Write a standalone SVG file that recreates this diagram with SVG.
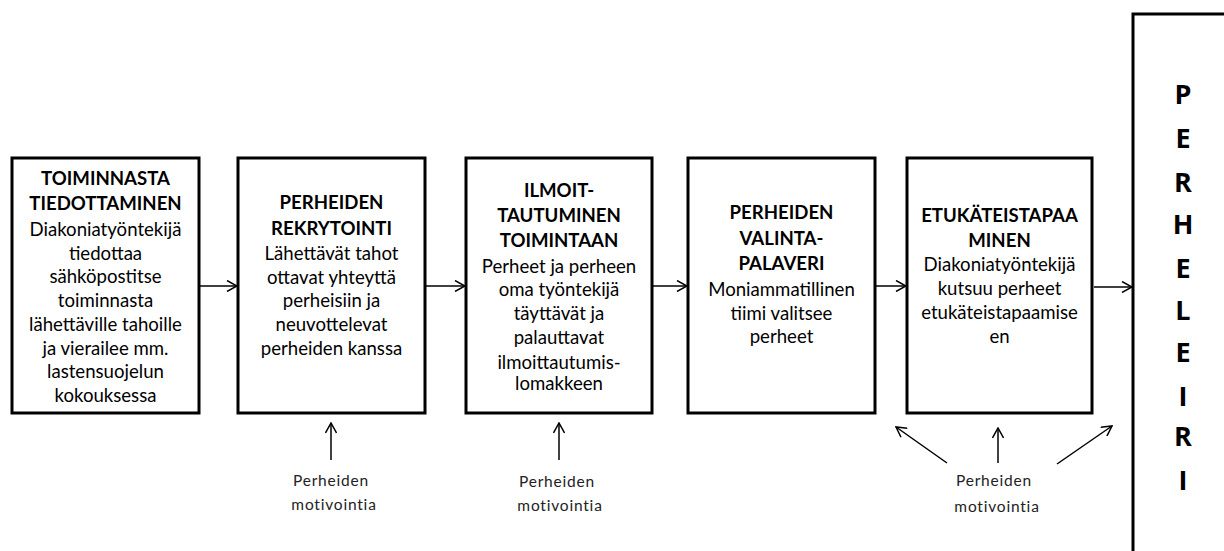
<svg xmlns="http://www.w3.org/2000/svg" width="1224" height="551" viewBox="0 0 1224 551">
<defs>
<style>
.box{fill:#fff;stroke:#000;stroke-width:3}
.t{font-family:Lato,"Liberation Sans",sans-serif;font-size:18.6px;text-anchor:middle;fill:#000}
.b{font-weight:bold}
.big{font-family:"Open Sans",Lato,sans-serif;font-weight:bold;font-size:27px;text-anchor:middle;fill:#000}
.lab{font-family:Lato,"DejaVu Sans",sans-serif;font-size:15.5px;text-anchor:middle;fill:#222;letter-spacing:0.8px}
.c{fill:none;stroke:#000;stroke-width:1.5}
</style>
<marker id="ah" viewBox="0 0 12 12" refX="11" refY="6" markerWidth="12" markerHeight="12" markerUnits="userSpaceOnUse" orient="auto">
<path d="M1,0.5 L11,6 L1,11.5" fill="none" stroke="#000" stroke-width="1.5"/>
</marker>
</defs>

<g id="connectors">
<line class="c" x1="200" y1="286" x2="237" y2="286" marker-end="url(#ah)"/>
<line class="c" x1="426" y1="286" x2="465" y2="286" marker-end="url(#ah)"/>
<line class="c" x1="653" y1="286" x2="687" y2="286" marker-end="url(#ah)"/>
<line class="c" x1="876" y1="286" x2="906" y2="286" marker-end="url(#ah)"/>
<line class="c" x1="1094" y1="287" x2="1132" y2="287" marker-end="url(#ah)"/>
<line class="c" x1="331" y1="460" x2="331" y2="423" marker-end="url(#ah)"/>
<line class="c" x1="559" y1="460" x2="559" y2="423" marker-end="url(#ah)"/>
<line class="c" x1="998" y1="463" x2="998" y2="428" marker-end="url(#ah)"/>
<line class="c" x1="947" y1="463" x2="896" y2="427" marker-end="url(#ah)"/>
<line class="c" x1="1057" y1="464" x2="1112" y2="426" marker-end="url(#ah)"/>
</g>

<g id="node1">
<rect class="box" x="12" y="158" width="187" height="255"/>
<text class="t b" x="105.5" y="185">TOIMINNASTA</text>
<text class="t b" x="105.5" y="210">TIEDOTTAMINEN</text>
<text class="t" x="105.5" y="236">Diakoniatyöntekijä</text>
<text class="t" x="105.5" y="260">tiedottaa</text>
<text class="t" x="105.5" y="283">sähköpostitse</text>
<text class="t" x="105.5" y="307">toiminnasta</text>
<text class="t" x="105.5" y="331">lähettäville tahoille</text>
<text class="t" x="105.5" y="355">ja vierailee mm.</text>
<text class="t" x="105.5" y="378">lastensuojelun</text>
<text class="t" x="105.5" y="402">kokouksessa</text>
</g>

<g id="node2">
<rect class="box" x="238" y="158" width="187" height="255"/>
<text class="t b" x="331.5" y="209">PERHEIDEN</text>
<text class="t b" x="331.5" y="235">REKRYTOINTI</text>
<text class="t" x="331.5" y="260">Lähettävät tahot</text>
<text class="t" x="331.5" y="284">ottavat yhteyttä</text>
<text class="t" x="331.5" y="307">perheisiin ja</text>
<text class="t" x="331.5" y="331">neuvottelevat</text>
<text class="t" x="331.5" y="355">perheiden kanssa</text>
</g>

<g id="node3">
<rect class="box" x="466" y="158" width="186" height="255"/>
<text class="t b" x="559" y="197">ILMOIT-</text>
<text class="t b" x="559" y="222">TAUTUMINEN</text>
<text class="t b" x="559" y="247">TOIMINTAAN</text>
<text class="t" x="559" y="273">Perheet ja perheen</text>
<text class="t" x="559" y="296">oma työntekijä</text>
<text class="t" x="559" y="320">täyttävät ja</text>
<text class="t" x="559" y="344">palauttavat</text>
<text class="t" x="559" y="369">ilmoittautumis-</text>
<text class="t" x="559" y="390">lomakkeen</text>
</g>

<g id="node4">
<rect class="box" x="688" y="158" width="187" height="255"/>
<text class="t b" x="781.5" y="219">PERHEIDEN</text>
<text class="t b" x="781.5" y="245">VALINTA-</text>
<text class="t b" x="781.5" y="270">PALAVERI</text>
<text class="t" x="781.5" y="296">Moniammatillinen</text>
<text class="t" x="781.5" y="320">tiimi valitsee</text>
<text class="t" x="781.5" y="343">perheet</text>
</g>

<g id="node5">
<rect class="box" x="907" y="158" width="185" height="255"/>
<text class="t b" x="999.5" y="222">ETUKÄTEISTAPAA</text>
<text class="t b" x="999.5" y="247">MINEN</text>
<text class="t" x="999.5" y="271">Diakoniatyöntekijä</text>
<text class="t" x="999.5" y="295">kutsuu perheet</text>
<text class="t" x="999.5" y="319">etukäteistapaamise</text>
<text class="t" x="999.5" y="343">en</text>
</g>

<g id="node6">
<rect class="box" x="1133" y="14" width="200" height="600"/>
<text class="big" x="1183" y="104">P</text>
<text class="big" x="1183" y="148">E</text>
<text class="big" x="1183" y="192">R</text>
<text class="big" x="1183" y="234">H</text>
<text class="big" x="1183" y="278">E</text>
<text class="big" x="1183" y="320">L</text>
<text class="big" x="1183" y="362">E</text>
<text class="big" x="1183" y="406">I</text>
<text class="big" x="1183" y="446">R</text>
<text class="big" x="1183" y="490">I</text>
</g>

<g id="label1">
<text class="lab" x="331" y="486">Perheiden</text>
<text class="lab" x="334" y="510">motivointia</text>
</g>
<g id="label2">
<text class="lab" x="557" y="487">Perheiden</text>
<text class="lab" x="560" y="511">motivointia</text>
</g>
<g id="label3">
<text class="lab" x="994" y="486">Perheiden</text>
<text class="lab" x="997" y="512">motivointia</text>
</g>
</svg>
